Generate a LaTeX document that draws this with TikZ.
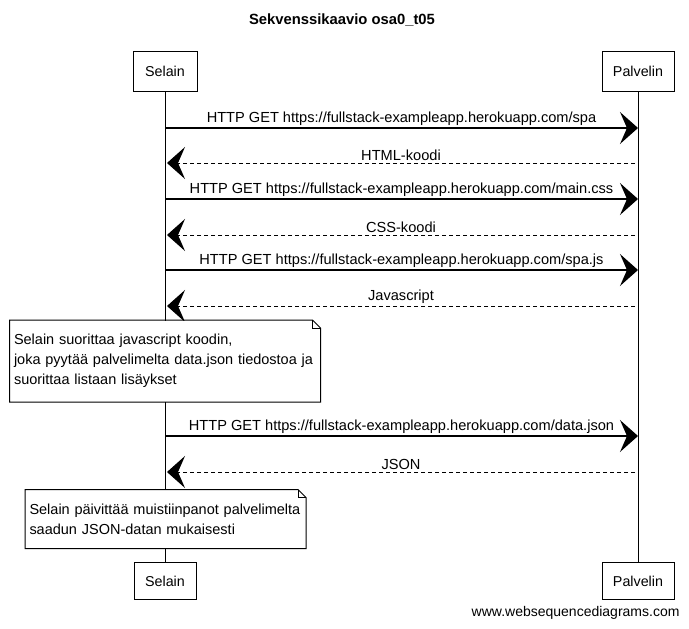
\documentclass[tikz,border=0pt]{standalone}
\usepackage{fontspec}
\setmainfont{Liberation Sans}
\usetikzlibrary{arrows.meta}
\begin{document}
\begin{tikzpicture}[x=1pt,y=-1pt,line width=1pt]
\useasboundingbox (0,0) rectangle (689,629);
\tikzstyle{actor}=[draw,fill=white,minimum height=40pt,inner sep=0pt,font=\fontsize{14.3}{16}\selectfont]
\tikzstyle{msg}=[draw,line width=1.2pt,-{Stealth[length=18pt,width=32pt,inset=7pt]}]
\tikzstyle{reply}=[msg,line width=1pt,dash pattern=on 4pt off 3pt]
\tikzstyle{msgtext}=[font=\fontsize{14.6}{16}\selectfont,above,inner sep=1.5pt]
\tikzstyle{note}=[fill=white,align=left,inner xsep=4pt,inner ysep=5pt,font=\fontsize{14.5}{20}\selectfont]

% title
\draw (342,20) node[font=\bfseries\fontsize{14.8}{16}\selectfont] (title) {Sekvenssikaavio osa0\_t05};

% participants
\draw (165,71.5) node[actor,minimum width=64pt] (selTop) {Selain};
\draw (638,71.5) node[actor,minimum width=72pt] (palTop) {Palvelin};
\draw (165,581) node[actor,minimum width=62pt,minimum height=37pt] (selBot) {Selain};
\draw (638,581) node[actor,minimum width=72pt,minimum height=37pt] (palBot) {Palvelin};

\draw (selTop) -- (selBot);
\draw (palTop) -- (palBot);

% message ends
\coordinate (s1) at (165,128); \coordinate (p1) at (638,128);
\coordinate (s2) at (167,163); \coordinate (p2) at (635,163);
\coordinate (s3) at (165,199); \coordinate (p3) at (638,199);
\coordinate (s4) at (167,235); \coordinate (p4) at (635,235);
\coordinate (s5) at (165,270); \coordinate (p5) at (638,270);
\coordinate (s6) at (167,306); \coordinate (p6) at (635,306);
\coordinate (s7) at (165,436); \coordinate (p7) at (638,436);
\coordinate (s8) at (167,472); \coordinate (p8) at (635,472);

\draw[msg] (s1) -- (p1) node[msgtext,midway] {HTTP GET https://fullstack-exampleapp.herokuapp.com/spa};
\draw[reply] (p2) -- (s2) node[msgtext,midway] {HTML-koodi};
\draw[msg] (s3) -- (p3) node[msgtext,midway] {HTTP GET https://fullstack-exampleapp.herokuapp.com/main.css};
\draw[reply] (p4) -- (s4) node[msgtext,midway] {CSS-koodi};
\draw[msg] (s5) -- (p5) node[msgtext,midway] {HTTP GET https://fullstack-exampleapp.herokuapp.com/spa.js};
\draw[reply] (p6) -- (s6) node[msgtext,midway] {Javascript};

% notes
\draw (165,361) node[note,text width=302pt,minimum height=81pt] (note1) {Selain suorittaa javascript koodin,\\joka pyytää palvelimelta data.json tiedostoa ja\\suorittaa listaan lisäykset};
\draw (note1.north west) -- ([xshift=-8pt]note1.north east) -- ([yshift=-8pt]note1.north east) -- (note1.south east) -- (note1.south west) -- cycle;
\draw ([xshift=-8pt]note1.north east) -- ([xshift=-8pt,yshift=-8pt]note1.north east) -- ([yshift=-8pt]note1.north east);

\draw[msg] (s7) -- (p7) node[msgtext,midway] {HTTP GET https://fullstack-exampleapp.herokuapp.com/data.json};
\draw[reply] (p8) -- (s8) node[msgtext,midway] {JSON};

\draw (165.5,519) node[note,text width=272pt,minimum height=58pt] (note2) {Selain päivittää muistiinpanot palvelimelta\\saadun JSON-datan mukaisesti};
\draw (note2.north west) -- ([xshift=-8pt]note2.north east) -- ([yshift=-8pt]note2.north east) -- (note2.south east) -- (note2.south west) -- cycle;
\draw ([xshift=-8pt]note2.north east) -- ([xshift=-8pt,yshift=-8pt]note2.north east) -- ([yshift=-8pt]note2.north east);

\draw (680,613) node[anchor=east,inner sep=0pt,font=\fontsize{14}{16}\selectfont] (site) {www.websequencediagrams.com};
\end{tikzpicture}
\end{document}
